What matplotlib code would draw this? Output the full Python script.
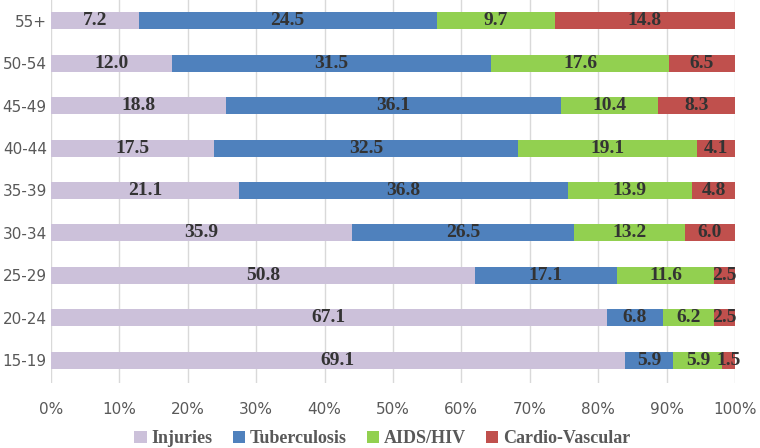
import matplotlib.pyplot as plt
import numpy as np

ages = ['15-19', '20-24', '25-29', '30-34', '35-39', '40-44', '45-49', '50-54', '55+']
injuries = [69.1, 67.1, 50.8, 35.9, 21.1, 17.5, 18.8, 12.0, 7.2]
tuberculosis = [5.9, 6.8, 17.1, 26.5, 36.8, 32.5, 36.1, 31.5, 24.5]
aids_hiv = [5.9, 6.2, 11.6, 13.2, 13.9, 19.1, 10.4, 17.6, 9.7]
cardio = [1.5, 2.5, 2.5, 6.0, 4.8, 4.1, 8.3, 6.5, 14.8]

series = [
    ('Injuries', injuries, '#CCC1DA'),
    ('Tuberculosis', tuberculosis, '#4F81BD'),
    ('AIDS/HIV', aids_hiv, '#92D050'),
    ('Cardio-Vascular', cardio, '#C0504D'),
]

vals = np.array([s[1] for s in series])
totals = vals.sum(axis=0)
pct = vals / totals * 100

fig = plt.figure(figsize=(7.6, 4.48), dpi=100)
ax = fig.add_axes([0.067, 0.145, 0.9, 0.855])

y = np.arange(len(ages))
left = np.zeros(len(ages))
for i, (name, v, col) in enumerate(series):
    ax.barh(y, pct[i], left=left, height=0.4, color=col, label=name, zorder=2)
    for j in range(len(ages)):
        ax.text(left[j] + pct[i][j] / 2, y[j], '%.1f' % v[j], ha='center', va='center',
                fontsize=14, fontweight='bold', family='Liberation Serif', color='#333333', zorder=3)
    left += pct[i]

ax.set_xlim(0, 100)
ax.set_ylim(-0.54, 8.49)
ax.set_xticks(np.arange(0, 101, 10))
ax.set_xticklabels(['%d%%' % t for t in range(0, 101, 10)])
ax.set_yticks(y)
ax.set_yticklabels(ages)
ax.tick_params(axis='both', length=0, labelsize=11, labelcolor='#595959')
ax.tick_params(axis='x', pad=14)
ax.tick_params(axis='y', pad=3)
ax.grid(axis='x', color='#D9D9D9', linewidth=1, zorder=0)
for s in ax.spines.values():
    s.set_visible(False)

leg = fig.legend(loc='lower center', bbox_to_anchor=(0.503, -0.035), ncol=4, frameon=False,
                 prop={'family': 'Liberation Serif', 'weight': 'bold', 'size': 13},
                 handlelength=0.7, handleheight=0.7, handletextpad=0.25, columnspacing=1.1)
for t in leg.get_texts():
    t.set_color('#595959')

fig.savefig('out.png', dpi=100)
